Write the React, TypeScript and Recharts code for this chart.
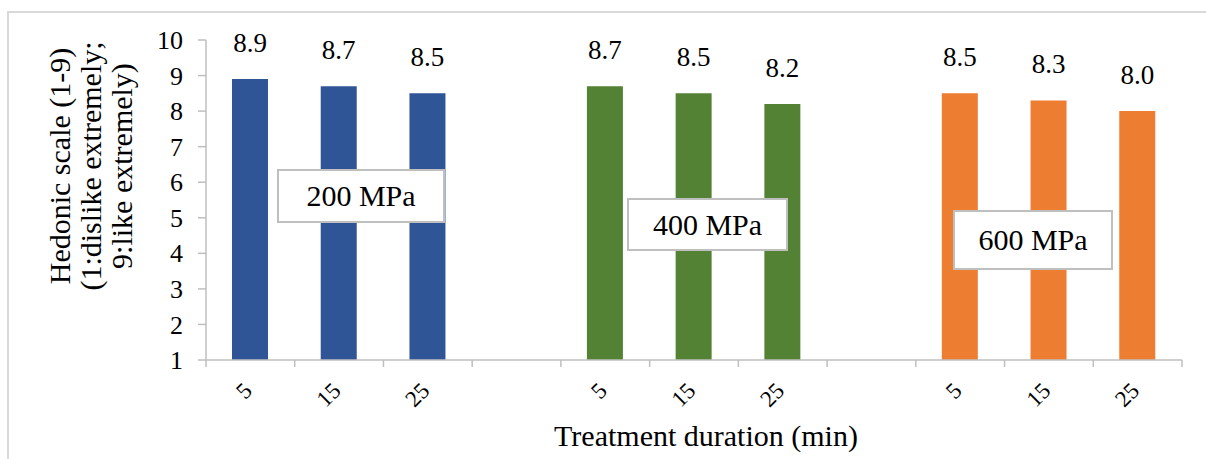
import React from "react";
import { BarChart, Bar, XAxis, YAxis, Cell, LabelList } from "recharts";

const durations = ["5", "15", "25"];
const pressures = ["200 MPa", "400 MPa", "600 MPa"];
const scores200 = [8.9, 8.7, 8.5];
const scores400 = [8.7, 8.5, 8.2];
const scores600 = [8.5, 8.3, 8.0];
const barColors = ["#2F5597", "#548235", "#ED7D31"];
const yTicks = [1, 2, 3, 4, 5, 6, 7, 8, 9, 10];

const FONT = '"Liberation Serif", "Times New Roman", serif';
const GRID = "#bfbfbf";
const serif = { fontFamily: FONT };

// one row per slot, with an empty slot between the pressure groups
const rows: Array<{ key: string; label: string; value: number | null; group: number }> = [];
[scores200, scores400, scores600].forEach((scores, g) => {
  if (g > 0) rows.push({ key: `gap${g}`, label: "", value: null, group: g });
  scores.forEach((v, i) => rows.push({ key: `${g}-${i}`, label: durations[i], value: v, group: g }));
});

const XTick = (props: any) => {
  const { x, y, payload, index } = props;
  const half = payload.offset || 44.35;
  const row = rows.find((r) => r.key === payload.value);
  const ax = x + 3;
  const ay = y + 32;
  return (
    <g>
      <line x1={x - half} x2={x - half} y1={y} y2={y + 7} stroke={GRID} strokeWidth={1.5} />
      {index === rows.length - 1 && (
        <line x1={x + half} x2={x + half} y1={y} y2={y + 7} stroke={GRID} strokeWidth={1.5} />
      )}
      <text
        x={ax}
        y={ay}
        transform={`rotate(-45 ${ax} ${ay})`}
        textAnchor="end"
        fontSize={23}
        style={serif}
        fill="#000"
      >
        {row ? row.label : ""}
      </text>
    </g>
  );
};

const YTick = (props: any) => {
  const { x, y, payload } = props;
  return (
    <text x={x} y={y} dy="0.35em" textAnchor="end" fontSize={26} style={serif} fill="#000">
      {payload.value}
    </text>
  );
};

const ValueLabel = (props: any) => {
  const { x, y, width, value } = props;
  if (value == null) return null;
  return (
    <text x={x + width / 2} y={y - 27} textAnchor="middle" fontSize={27} style={serif} fill="#000">
      {Number(value).toFixed(1)}
    </text>
  );
};

const YTitle = () => {
  const cy = 166;
  const lines = ["Hedonic scale (1-9)", "(1:dislike extremely;", "9:like extremely)"];
  const xs = [70, 101, 132];
  return (
    <g>
      {lines.map((t, i) => (
        <text
          key={t}
          x={xs[i]}
          y={cy}
          transform={`rotate(-90 ${xs[i]} ${cy})`}
          textAnchor="middle"
          fontSize={30}
          style={serif}
          fill="#000"
        >
          {t}
        </text>
      ))}
    </g>
  );
};

const XTitle = (props: any) => {
  const { viewBox } = props;
  const cx = viewBox.x + viewBox.width / 2 + 12;
  return (
    <text x={cx} y={446} textAnchor="middle" fontSize={30} style={serif} fill="#000">
      Treatment duration (min)
    </text>
  );
};

const boxes = [
  { left: 277, top: 169, width: 168, height: 54 },
  { left: 627, top: 198, width: 161, height: 53 },
  { left: 953, top: 210, width: 160, height: 60 },
];

export default function App() {
  return (
    <div
      style={{
        position: "absolute",
        left: 0,
        top: 0,
        width: 1206,
        height: 459,
        overflow: "hidden",
        background: "#fff",
      }}
    >
      <div
        style={{
          position: "absolute",
          left: 7,
          top: 11,
          width: 1400,
          height: 700,
          borderTop: "2px solid #d9d9d9",
          borderLeft: "2px solid #d9d9d9",
        }}
      />
      <div style={{ position: "absolute", left: 0, top: 0 }}>
        <BarChart width={1206} height={459} data={rows} margin={{ top: 40, right: 24, bottom: 39, left: 0 }}>
          <YAxis
            type="number"
            domain={[1, 10]}
            ticks={yTicks}
            interval={0}
            width={206}
            tickSize={8}
            tickMargin={15}
            axisLine={{ stroke: GRID, strokeWidth: 1.5 }}
            tickLine={{ stroke: GRID, strokeWidth: 1.5 }}
            tick={(p: any) => <YTick {...p} />}
            label={<YTitle />}
          />
          <XAxis
            dataKey="key"
            interval={0}
            height={60}
            tickSize={0}
            tickMargin={0}
            tickLine={false}
            axisLine={{ stroke: GRID, strokeWidth: 1.5 }}
            tick={(p: any) => <XTick {...p} />}
            label={<XTitle />}
          />
          <Bar dataKey="value" barSize={36} isAnimationActive={false}>
            {rows.map((r) => (
              <Cell key={r.key} fill={barColors[r.group]} />
            ))}
            <LabelList dataKey="value" content={<ValueLabel />} />
          </Bar>
        </BarChart>
      </div>
      {boxes.map((b, i) => (
        <div
          key={pressures[i]}
          style={{
            position: "absolute",
            left: b.left,
            top: b.top,
            width: b.width,
            height: b.height,
            boxSizing: "border-box",
            border: "2px solid #bfbfbf",
            background: "#fff",
            display: "flex",
            alignItems: "center",
            justifyContent: "center",
            fontFamily: FONT,
            fontSize: 30,
            color: "#000",
          }}
        >
          {pressures[i]}
        </div>
      ))}
    </div>
  );
}
